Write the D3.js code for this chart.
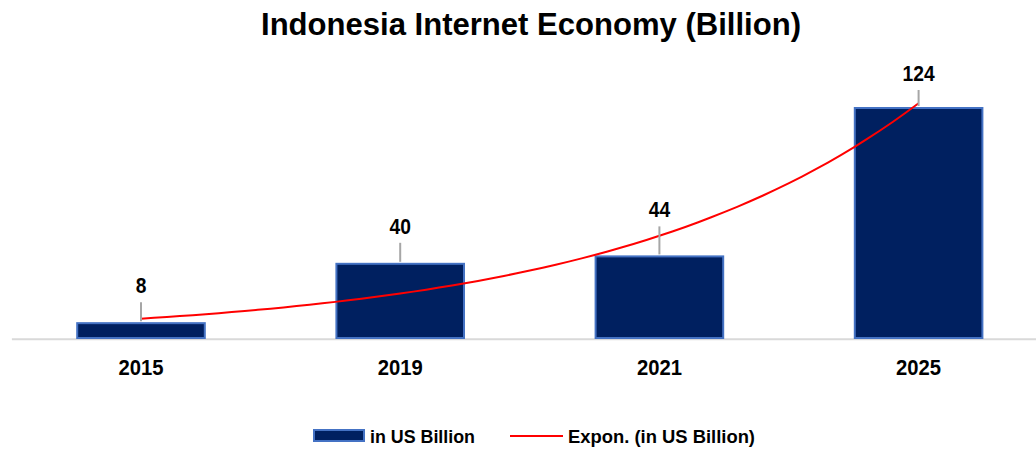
<!DOCTYPE html>
<html>
<head>
<meta charset="utf-8">
<script src="https://cdn.jsdelivr.net/npm/d3@7"></script>
<style>
  html, body { margin: 0; padding: 0; background: #ffffff; }
  svg { display: block; }
  text { font-family: "Liberation Sans", Arial, sans-serif; fill: #000; }
</style>
</head>
<body>
<svg id="chart" width="1036" height="452"></svg>
<script>
// Data
const years = ["2015", "2019", "2021", "2025"];
const values = [8, 40, 44, 124];
const seriesName = "in US Billion";
const trendName = "Expon. (in US Billion)";
const titleText = "Indonesia Internet Economy (Billion)";

// Layout
const W = 1036, H = 452;
const baseY = 338;
const labelLift = [30, 30, 39, 27]; // gap between bar top and value label baseline
const navy = "#002060", edge = "#4472c4", red = "#ff0000";

const svg = d3.select("#chart");

const x = d3.scaleBand()
  .domain(years)
  .range([11.4, 1048.2])
  .paddingInner(0.5)
  .paddingOuter(0.25);

const y = d3.scaleLinear().domain([0, 124]).range([baseY, 108]);

// Title
svg.append("text")
  .attr("x", 261).attr("y", 35)
  .attr("font-size", 31).attr("font-weight", "bold")
  .attr("textLength", 540).attr("lengthAdjust", "spacingAndGlyphs")
  .text(titleText);

// Category axis
const axis = svg.append("g")
  .attr("transform", `translate(0,${baseY + 0.7})`)
  .call(d3.axisBottom(x).tickSize(0).tickPadding(0));
axis.select(".domain").attr("stroke", "#d9d9d9").attr("stroke-width", 2);
axis.selectAll(".tick text")
  .attr("y", 36.5).attr("dy", null)
  .attr("font-size", 22).attr("font-weight", "bold")
  .attr("font-family", "Liberation Sans, Arial, sans-serif")
  .attr("fill", "#000")
  .attr("textLength", d => d.length * 11.25)
  .attr("lengthAdjust", "spacingAndGlyphs");

// Bars
svg.append("g").selectAll("rect")
  .data(values)
  .join("rect")
  .attr("x", (d, i) => x(years[i]) + 1)
  .attr("width", x.bandwidth() - 2)
  .attr("y", d => y(d))
  .attr("height", d => baseY - y(d))
  .attr("fill", navy)
  .attr("stroke", edge)
  .attr("stroke-width", 2);

// Exponential trend (least-squares fit of ln(value) on category index 1..n)
const n = values.length;
const xs = values.map((_, i) => i + 1);
const ls = values.map(v => Math.log(v));
const mx = d3.mean(xs), ml = d3.mean(ls);
const b = d3.sum(xs, (xi, i) => (xi - mx) * (ls[i] - ml)) / d3.sum(xs, xi => (xi - mx) ** 2);
const a = ml - b * mx;
const fit = t => Math.exp(a + b * t);

const c0 = x(years[0]) + x.bandwidth() / 2;
const step = x.step();
const trendPts = d3.range(0, n - 1 + 1e-9, 0.05).map(t => [c0 + t * step, y(fit(t + 1))]);
svg.append("path")
  .attr("d", d3.line()(trendPts))
  .attr("fill", "none")
  .attr("stroke", red)
  .attr("stroke-width", 2);

// Value labels with leader lines
const labels = svg.append("g");
values.forEach((v, i) => {
  const cx = x(years[i]) + x.bandwidth() / 2;
  const ly = y(v) - labelLift[i];
  labels.append("line")
    .attr("x1", cx).attr("x2", cx)
    .attr("y1", ly + 9).attr("y2", y(v) - 2)
    .attr("stroke", "#a6a6a6").attr("stroke-width", 2);
  const s = String(v);
  labels.append("text")
    .attr("x", cx).attr("y", ly)
    .attr("text-anchor", "middle")
    .attr("font-size", 22).attr("font-weight", "bold")
    .attr("textLength", s.length * 10.7)
    .attr("lengthAdjust", "spacingAndGlyphs")
    .text(s);
});

// Legend
const lg = svg.append("g");
lg.append("rect")
  .attr("x", 314).attr("y", 430).attr("width", 50).attr("height", 11)
  .attr("fill", navy).attr("stroke", edge).attr("stroke-width", 2);
lg.append("text")
  .attr("x", 370).attr("y", 443)
  .attr("font-size", 19).attr("font-weight", "bold")
  .attr("textLength", 105).attr("lengthAdjust", "spacingAndGlyphs")
  .text(seriesName);
lg.append("line")
  .attr("x1", 510).attr("x2", 563).attr("y1", 436).attr("y2", 436)
  .attr("stroke", red).attr("stroke-width", 2);
lg.append("text")
  .attr("x", 568).attr("y", 443)
  .attr("font-size", 19).attr("font-weight", "bold")
  .attr("textLength", 187).attr("lengthAdjust", "spacingAndGlyphs")
  .text(trendName);
</script>
</body>
</html>
